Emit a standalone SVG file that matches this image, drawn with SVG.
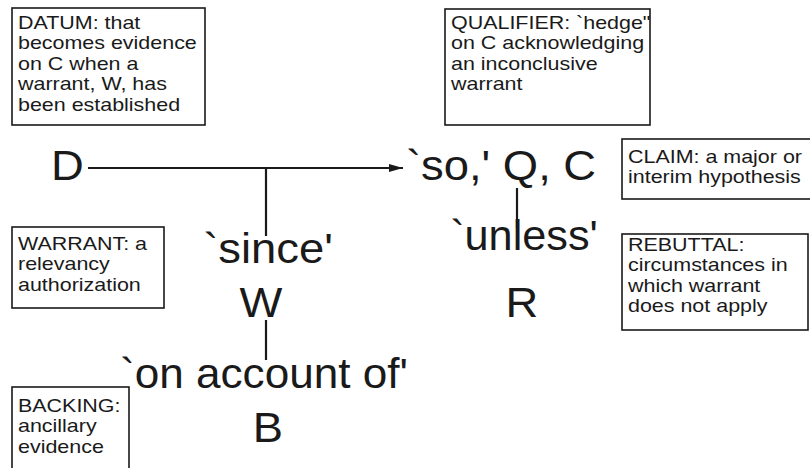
<svg xmlns="http://www.w3.org/2000/svg" width="810" height="468" viewBox="0 0 810 468">
<defs>
<style>
.box{fill:#fff;stroke:#1a1a1a;stroke-width:1.6}
.sm{font-family:"Liberation Sans",Arial,sans-serif;font-size:18.5px;fill:#1a1a1a}
.bg{font-family:"Liberation Sans",Arial,sans-serif;font-size:42px;fill:#1a1a1a}
.ln{stroke:#1a1a1a;stroke-width:2.2;fill:none}
</style>
<marker id="arr" viewBox="0 0 14 8" refX="14" refY="4" markerWidth="14" markerHeight="8" markerUnits="userSpaceOnUse" orient="auto">
<path d="M0,0 L14,4 L0,8 Z" fill="#1a1a1a"/>
</marker>
</defs>
<rect width="810" height="468" fill="#fff"/>

<g id="connectors">
<line class="ln" x1="88" y1="168" x2="403" y2="168" marker-end="url(#arr)"/>
<line class="ln" x1="266" y1="168" x2="266" y2="236"/>
<line class="ln" x1="266" y1="320" x2="266" y2="360"/>
<line class="ln" x1="517" y1="188" x2="517" y2="228"/>
</g>

<g id="datum">
<rect class="box" x="12" y="8" width="193" height="117"/>
<text class="sm" transform="translate(18,29) scale(1.16,1)"><tspan x="0" y="0">DATUM: that</tspan><tspan x="0" dy="20.5">becomes evidence</tspan><tspan x="0" dy="20.5">on C when a</tspan><tspan x="0" dy="20.5">warrant, W, has</tspan><tspan x="0" dy="20.5">been established</tspan></text>
</g>

<g id="qualifier">
<rect class="box" x="445" y="9" width="205" height="116"/>
<text class="sm" transform="translate(451,29) scale(1.16,1)"><tspan x="0" y="0">QUALIFIER: `hedge"</tspan><tspan x="0" dy="20.5">on C acknowledging</tspan><tspan x="0" dy="20.5">an inconclusive</tspan><tspan x="0" dy="20.5">warrant</tspan></text>
</g>

<g id="claim">
<rect class="box" x="622" y="139" width="195" height="60"/>
<text class="sm" transform="translate(628,163) scale(1.16,1)"><tspan x="0" y="0">CLAIM: a major or</tspan><tspan x="0" dy="20.5">interim hypothesis</tspan></text>
</g>

<g id="warrant">
<rect class="box" x="12" y="227" width="152" height="81"/>
<text class="sm" transform="translate(18,250) scale(1.16,1)"><tspan x="0" y="0">WARRANT: a</tspan><tspan x="0" dy="20.5">relevancy</tspan><tspan x="0" dy="20.5">authorization</tspan></text>
</g>

<g id="rebuttal">
<rect class="box" x="622" y="234" width="186" height="96"/>
<text class="sm" transform="translate(628,251) scale(1.16,1)"><tspan x="0" y="0">REBUTTAL:</tspan><tspan x="0" dy="20.5">circumstances in</tspan><tspan x="0" dy="20.5">which warrant</tspan><tspan x="0" dy="20.5">does not apply</tspan></text>
</g>

<g id="backing">
<rect class="box" x="12" y="387" width="117" height="90"/>
<text class="sm" transform="translate(18,412) scale(1.16,1)"><tspan x="0" y="0">BACKING:</tspan><tspan x="0" dy="20.5">ancillary</tspan><tspan x="0" dy="20.5">evidence</tspan></text>
</g>

<g id="D">
<text class="bg" transform="translate(51,180) scale(1.08,1)">D</text>
</g>

<g id="C">
<text class="bg" transform="translate(406,180) scale(1.08,1)">`so,' Q, C</text>
</g>

<g id="W">
<text class="bg" text-anchor="middle" transform="translate(268,263) scale(1.08,1)">`since'</text>
<text class="bg" text-anchor="middle" transform="translate(261,317) scale(1.08,1)">W</text>
</g>

<g id="R">
<text class="bg" text-anchor="middle" transform="translate(524,250) scale(1.03,1)">`unless'</text>
<text class="bg" text-anchor="middle" transform="translate(522,317) scale(1.08,1)">R</text>
</g>

<g id="B">
<text class="bg" text-anchor="middle" transform="translate(264,388) scale(1.05,1)">`on account of'</text>
<text class="bg" text-anchor="middle" transform="translate(268,442) scale(1.08,1)">B</text>
</g>
</svg>
